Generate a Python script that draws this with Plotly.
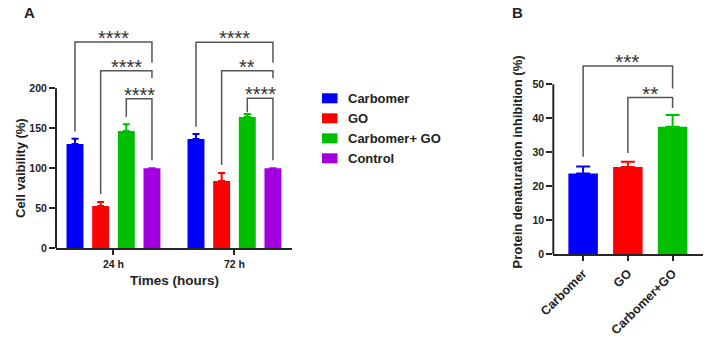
import plotly.graph_objects as go

# ---------------- data ----------------
groups_a = ["24 h", "72 h"]
series_a = ["Carbomer", "GO", "Carbomer+ GO", "Control"]
carbomer_a = [130.5, 136.5]
carbomer_a_sd = [6.5, 6.5]
go_a = [53, 84]
go_a_sd = [5, 10]
cgo_a = [146.5, 164]
cgo_a_sd = [8.5, 4]
control_a = [100, 100]
control_a_sd = [0, 0]

cats_b = ["Carbomer", "GO", "Carbomer+GO"]
vals_b = [23.8, 25.7, 37.5]
sd_b = [2.0, 1.5, 3.5]

# significance: (group, from series, to series, bracket y, left leg end, right leg end, label)
sig_a = [
    (0, 0, 3, 258, 146, 232, "****"),
    (0, 1, 3, 222, 68, 213, "****"),
    (0, 2, 3, 187, 164.5, 110, "****"),
    (1, 0, 3, 257.5, 152, 232, "****"),
    (1, 1, 3, 222, 104, 212.5, "**"),
    (1, 2, 3, 187.5, 170, 110, "****"),
]
sig_b = [
    (0, 2, 55.4, 28.7, 48.8, "***"),
    (1, 2, 46.1, 29.8, 43.0, "**"),
]

colors = ["#0000ff", "#ff0000", "#00bf00", "#a300e0"]
FONT = "Liberation Sans, Arial, sans-serif"
AX = "#262626"
BR = "#555555"

W, H = 716, 347
def px(x):
    return x / W
def py(y):
    return 1 - y / H

fig = go.Figure()

# ---------------- panel A ----------------
bw = 0.14
step = 0.212
vals = [carbomer_a, go_a, cgo_a, control_a]
sds = [carbomer_a_sd, go_a_sd, cgo_a_sd, control_a_sd]
for i, name in enumerate(series_a):
    fig.add_trace(go.Bar(
        x=[0, 1], y=vals[i], name=name, width=bw, offset=(i - 1.5) * step - bw / 2,
        marker=dict(color=colors[i], line=dict(width=0)),
        error_y=dict(type="data", symmetric=False, array=sds[i], arrayminus=[0, 0],
                     color=colors[i], thickness=2, width=3.5, visible=True),
        xaxis="x", yaxis="y", showlegend=False,
    ))

# ---------------- panel B ----------------
fig.add_trace(go.Bar(
    x=[0, 1, 2], y=vals_b, width=0.66,
    marker=dict(color=colors[:3], line=dict(width=0)),
    xaxis="x2", yaxis="y2", showlegend=False,
))
for i in range(3):
    fig.add_trace(go.Scatter(
        x=[i], y=[vals_b[i]], mode="markers", marker=dict(size=1, opacity=0),
        error_y=dict(type="data", symmetric=False, array=[sd_b[i]], arrayminus=[0],
                     color=colors[i], thickness=2, width=7),
        xaxis="x2", yaxis="y2", showlegend=False, hoverinfo="skip",
    ))

shapes = []
annotations = []

def centre_a(g, i):
    return g + (i - 1.5) * step

for g, i0, i1, yl, yle, yre, lab in sig_a:
    x0, x1 = centre_a(g, i0), centre_a(g, i1)
    shapes.append(dict(type="path", xref="x", yref="y",
                       path=f"M {x0} {yle} L {x0} {yl} L {x1} {yl} L {x1} {yre}",
                       line=dict(color=BR, width=1.5)))
    annotations.append(dict(x=(x0 + x1) / 2, y=yl, xref="x", yref="y", text=lab,
                            showarrow=False, xanchor="center", yanchor="bottom", yshift=-9,
                            font=dict(family=FONT, size=20, color="#333333")))

for i0, i1, yl, yle, yre, lab in sig_b:
    shapes.append(dict(type="path", xref="x2", yref="y2",
                       path=f"M {i0} {yle} L {i0} {yl} L {i1} {yl} L {i1} {yre}",
                       line=dict(color=BR, width=1.5)))
    annotations.append(dict(x=(i0 + i1) / 2, y=yl, xref="x2", yref="y2", text=lab,
                            showarrow=False, xanchor="center", yanchor="bottom", yshift=-9,
                            font=dict(family=FONT, size=21, color="#333333")))

# y axis lines only up to last tick
shapes.append(dict(type="line", xref="x domain", yref="y", x0=0, x1=0, y0=0, y1=200,
                   line=dict(color=AX, width=2)))
shapes.append(dict(type="line", xref="x2 domain", yref="y2", x0=0, x1=0, y0=0, y1=50,
                   line=dict(color=AX, width=2)))

# legend (manual)
for i, name in enumerate(series_a):
    yc = 98.3 + 20 * i
    shapes.append(dict(type="rect", xref="paper", yref="paper",
                       x0=px(322), x1=px(337.5), y0=py(yc + 5), y1=py(yc - 5),
                       fillcolor=colors[i], line=dict(width=0)))
    annotations.append(dict(x=px(346), y=py(yc), xref="paper", yref="paper", text=f"<b>{name}</b>",
                            showarrow=False, xanchor="left", yanchor="middle",
                            font=dict(family=FONT, size=13, color="#222222")))

def label(x, y, text, size, angle=0):
    return dict(x=px(x), y=py(y), xref="paper", yref="paper", text=text, showarrow=False,
                xanchor="center", yanchor="middle", textangle=angle,
                font=dict(family=FONT, size=size, color="#222222"))

# titles / panel letters
annotations += [
    label(29, 12, "<b>A</b>", 15),
    label(517, 12, "<b>B</b>", 15),
    label(20, 168, "<b>Cell vaibility (%)</b>", 13, -90),
    label(174, 280, "<b>Times (hours)</b>", 13.5),
    label(516.5, 162, "<b>Protein denaturation inhibition (%)</b>", 13, -90),
]

tickfont = dict(family=FONT, size=10.5, color="#222222")

fig.update_layout(
    template="none",
    width=W, height=H, margin=dict(l=0, r=0, t=0, b=0, pad=0, autoexpand=False),
    paper_bgcolor="white", plot_bgcolor="white",
    barmode="overlay", showlegend=False,
    shapes=shapes, annotations=annotations,
    xaxis=dict(domain=[px(56), px(291.7)], range=[-0.475, 1.473],
               tickvals=[0, 1], ticktext=[f"<b>{g}</b>" for g in groups_a],
               showline=True, linecolor=AX, linewidth=2, ticks="outside", ticklen=5,
               tickwidth=1.5, tickcolor=AX, showgrid=False, zeroline=False,
               tickfont=tickfont, automargin=False),
    yaxis=dict(domain=[py(248.3), py(20)], range=[0, (248.3 - 20) / 0.8],
               tickvals=[0, 50, 100, 150, 200], ticktext=[f"<b>{v}</b>" for v in [0, 50, 100, 150, 200]],
               showline=False, ticks="outside", ticklen=6, tickwidth=1.5, tickcolor=AX,
               showgrid=False, zeroline=False, tickfont=tickfont, automargin=False),
    xaxis2=dict(domain=[px(553.3), px(703)], range=[-0.667, 2.68],
                tickvals=[0, 1, 2], ticktext=[f"<b>{c}</b>" for c in cats_b], tickangle=-45,
                showline=True, linecolor=AX, linewidth=2, ticks="outside", ticklen=5,
                tickwidth=1.5, tickcolor=AX, showgrid=False, zeroline=False,
                tickfont=dict(family=FONT, size=12.5, color="#222222"), anchor="y2", automargin=False),
    yaxis2=dict(domain=[py(254.3), py(20)], range=[0, (254.3 - 20) / 3.4],
                tickvals=[0, 10, 20, 30, 40, 50], ticktext=[f"<b>{v}</b>" for v in [0, 10, 20, 30, 40, 50]],
                showline=False, ticks="outside", ticklen=6, tickwidth=1.5, tickcolor=AX,
                showgrid=False, zeroline=False, tickfont=tickfont, anchor="x2", automargin=False),
)

fig.write_html("out.html")
